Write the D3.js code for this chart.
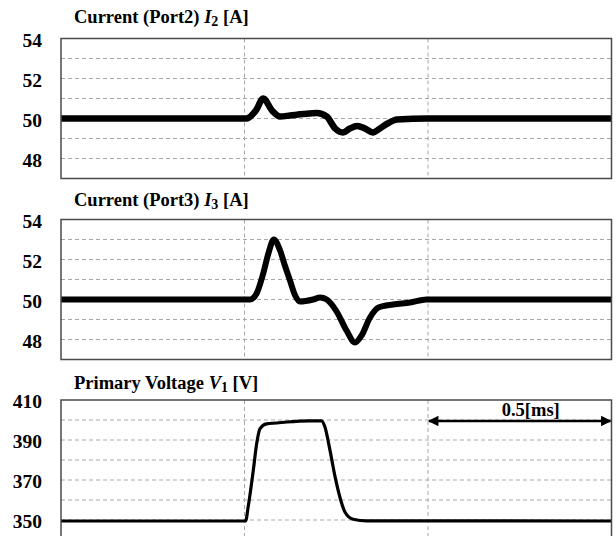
<!DOCTYPE html>
<html>
<head>
<meta charset="utf-8">
<script src="https://cdn.jsdelivr.net/npm/d3@7"></script>
<style>
  html, body { margin: 0; padding: 0; background: #fff; }
  svg { display: block; }
  text { font-family: "Liberation Serif", "Times New Roman", serif; font-weight: bold; fill: #000; }
</style>
</head>
<body>
<svg id="chart" width="616" height="536"></svg>
<script>
// ---- Data (time in ms) ----
const timeDomain = [0, 1.5];
const timeGrid = [0.5, 1.0];

const i2Time = [0, 0.505, 0.531, 0.551, 0.575, 0.597, 0.624, 0.66, 0.697, 0.724, 0.747, 0.768, 0.787, 0.807, 0.828, 0.850, 0.869, 0.888, 0.916, 1.0, 1.5];
const i2Vals = [50, 50, 50.4, 51.0, 50.4, 50.1, 50.15, 50.22, 50.27, 50.1, 49.5, 49.3, 49.5, 49.62, 49.5, 49.3, 49.5, 49.73, 49.95, 50, 50];

const i3Time = [0, 0.505, 0.515, 0.533, 0.551, 0.565, 0.580, 0.597, 0.610, 0.624, 0.638, 0.651, 0.687, 0.706, 0.724, 0.751, 0.778, 0.801, 0.819, 0.842, 0.865, 0.905, 0.951, 0.996, 1.5];
const i3Vals = [50, 50, 50.0, 50.3, 51.3, 52.3, 53.0, 52.45, 51.7, 50.95, 50.2, 49.9, 50.0, 50.1, 50.0, 49.4, 48.45, 47.85, 48.2, 49.1, 49.6, 49.75, 49.85, 50.0, 50.0];

const v1Time = [0, 0.503, 0.510, 0.524, 0.533, 0.542, 0.560, 0.588, 0.615, 0.678, 0.710, 0.719, 0.733, 0.747, 0.760, 0.774, 0.796, 0.833, 1.5];
const v1Vals = [349.5, 349.5, 356.6, 374.9, 388, 395.6, 398.1, 398.5, 399, 399.6, 399.6, 396.6, 384.8, 371.4, 361.4, 353.9, 350.4, 349.6, 349.5];

const panelTitles = [
  ["Current (Port2) ", "I", "2", " [A]"],
  ["Current (Port3) ", "I", "3", " [A]"],
  ["Primary Voltage ", "V", "1", " [V]"]
];
const currentDomain = [47, 54];
const currentTicks = [48, 50, 52, 54];
const currentGrid = [48, 49, 50, 51, 52, 53];
const voltageDomain = [340, 410];
const voltageTicks = [350, 370, 390, 410];
const voltageGrid = [350, 360, 370, 380, 390, 400];

const scaleArrowTime = [1.0, 1.5];
const scaleArrowValue = 400;
const scaleArrowLabel = "0.5[ms]";

// ---- Layout ----
const svg = d3.select("#chart");
const left = 61, right = 611.5;
const x = d3.scaleLinear().domain(timeDomain).range([left, right]);

const panels = [
  { top: 38.5, h: 140, domain: currentDomain, ticks: currentTicks, grid: currentGrid, t: i2Time, v: i2Vals, sw: 6.5, title: panelTitles[0], titleY: 22.5 },
  { top: 219.5, h: 140, domain: currentDomain, ticks: currentTicks, grid: currentGrid, t: i3Time, v: i3Vals, sw: 6, title: panelTitles[1], titleY: 206 },
  { top: 400, h: 140, domain: voltageDomain, ticks: voltageTicks, grid: voltageGrid, t: v1Time, v: v1Vals, sw: 3.2, title: panelTitles[2], titleY: 389 }
];

panels.forEach((p, idx) => {
  const y = d3.scaleLinear().domain(p.domain).range([p.top + p.h, p.top]);
  const g = svg.append("g");

  // horizontal grid
  g.selectAll("line.hg").data(p.grid).join("line")
    .attr("x1", left).attr("x2", right)
    .attr("y1", d => y(d)).attr("y2", d => y(d))
    .attr("stroke", "#a8a8a8").attr("stroke-width", 1).attr("stroke-dasharray", "4,3");
  // vertical grid
  g.selectAll("line.vg").data(timeGrid).join("line")
    .attr("x1", d => x(d)).attr("x2", d => x(d))
    .attr("y1", p.top).attr("y2", p.top + p.h)
    .attr("stroke", "#a8a8a8").attr("stroke-width", 1).attr("stroke-dasharray", "4,3");

  // waveform
  const pts = p.t.map((t, i) => [t, p.v[i]]);
  const line = d3.line().x(d => x(d[0])).y(d => y(d[1])).curve(d3.curveMonotoneX);
  g.append("path").datum(pts)
    .attr("d", line)
    .attr("fill", "none").attr("stroke", "#000")
    .attr("stroke-width", p.sw).attr("stroke-linejoin", "round");

  // frame
  g.append("rect")
    .attr("x", left).attr("y", p.top)
    .attr("width", right - left).attr("height", p.h)
    .attr("fill", "none").attr("stroke", "#4a4a4a").attr("stroke-width", 1.5);

  // tick labels
  g.selectAll("text.tk").data(p.ticks).join("text")
    .attr("x", 42).attr("y", d => y(d) + 1.5)
    .attr("text-anchor", "end").attr("dominant-baseline", "central")
    .attr("font-size", 19.5)
    .text(d => d);

  // title
  const tt = g.append("text").attr("x", 74).attr("y", p.titleY).attr("font-size", 18.5);
  tt.append("tspan").text(p.title[0]);
  tt.append("tspan").attr("font-style", "italic").text(p.title[1]);
  tt.append("tspan").attr("font-size", 14).attr("dy", 3).text(p.title[2]);
  tt.append("tspan").attr("dy", -3).text(p.title[3]);

  if (idx === 2) {
    // scale arrow
    const defs = svg.append("defs");
    ["s", "e"].forEach(k => {
      defs.append("marker").attr("id", "arr" + k)
        .attr("viewBox", "0 0 10 10").attr("refX", 9).attr("refY", 5)
        .attr("markerWidth", 4.8).attr("markerHeight", 4.2)
        .attr("orient", k === "s" ? "auto-start-reverse" : "auto")
        .attr("markerUnits", "strokeWidth")
        .append("path").attr("d", "M0,0 L10,5 L0,10 Z").attr("fill", "#000");
    });
    g.append("line")
      .attr("x1", x(scaleArrowTime[0]) + 1).attr("x2", x(scaleArrowTime[1]) - 1)
      .attr("y1", y(scaleArrowValue) + 1).attr("y2", y(scaleArrowValue) + 1)
      .attr("stroke", "#000").attr("stroke-width", 2.5)
      .attr("marker-start", "url(#arrs)").attr("marker-end", "url(#arre)");
    g.append("text")
      .attr("x", (x(scaleArrowTime[0]) + x(scaleArrowTime[1])) / 2 + 11)
      .attr("y", y(scaleArrowValue) - 4)
      .attr("text-anchor", "middle").attr("font-size", 18.5)
      .text(scaleArrowLabel);
  }
});
</script>
</body>
</html>
